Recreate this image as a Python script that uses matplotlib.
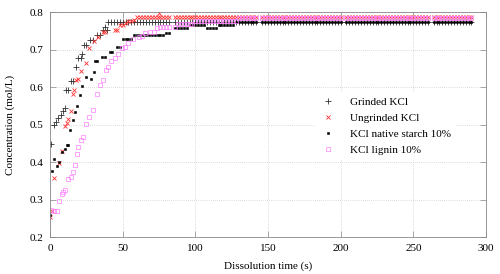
import matplotlib
matplotlib.use('Agg')
import matplotlib.pyplot as plt
import numpy as np

plt.rcParams['font.family'] = ['Liberation Serif', 'DejaVu Serif']

# early (rising) part of each curve: time (s), concentration (mol/L)
grinded_t = [1, 2.5, 4, 5.5, 7.5, 9, 10, 11, 12.5, 14.5, 15.5, 18, 19.5, 21, 22, 23.5, 25,
             27.5, 29.5, 32, 34.5, 36.5, 38, 39]
grinded_y = [0.45, 0.50, 0.508, 0.517, 0.525, 0.536, 0.546, 0.592, 0.592, 0.616, 0.616, 0.655,
             0.677, 0.677, 0.69, 0.714, 0.714, 0.726, 0.726, 0.739, 0.739, 0.754, 0.762, 0.754]

ungrinded_t = [0, 1.5, 2.5, 6.5, 8.5, 10, 11.5, 12.5, 14.5, 15.5, 16.5, 18, 19.5, 21.5, 25,
               27, 30, 33, 36.5, 38, 44.5, 46, 48, 50, 52, 54, 56, 58, 75]
ungrinded_y = [0.253, 0.271, 0.359, 0.399, 0.429, 0.496, 0.506, 0.515, 0.536, 0.581, 0.592,
               0.619, 0.623, 0.643, 0.664, 0.704, 0.723, 0.735, 0.748, 0.748, 0.754, 0.754,
               0.766, 0.766, 0.771, 0.777, 0.777, 0.779, 0.797]

starch_t = [0, 1.5, 2.5, 4.5, 6.5, 8.5, 10, 11.5, 12.5, 14, 16, 17.5, 18.5, 20.5, 22, 24.5,
            28.5, 30, 31, 32.5, 35.5, 37.5, 41, 43, 46, 48]
starch_y = [0.26, 0.378, 0.41, 0.39, 0.40, 0.427, 0.436, 0.445, 0.445, 0.485, 0.512, 0.534,
            0.55, 0.58, 0.604, 0.628, 0.622, 0.641, 0.67, 0.67, 0.68, 0.68, 0.695, 0.695,
            0.708, 0.708]

lignin_t = [1, 2.5, 4.5, 6, 8, 9, 10.5, 12.5, 14.5, 16, 17.5, 18.5, 19.5, 21.5, 22.5, 24.5,
            27, 29.5, 32, 34.5, 36.5, 38.5, 40, 42, 44.5, 47, 49.5, 51.5, 54, 57, 61, 63,
            65.5, 69, 71.5, 73.5]
lignin_y = [0.273, 0.269, 0.271, 0.298, 0.316, 0.32, 0.325, 0.356, 0.362, 0.374, 0.392,
            0.423, 0.44, 0.459, 0.467, 0.503, 0.52, 0.539, 0.581, 0.606, 0.619, 0.646, 0.655,
            0.67, 0.677, 0.69, 0.704, 0.708, 0.717, 0.729, 0.733, 0.737, 0.744, 0.748, 0.748,
            0.757]

grinded_runs = [(40, 290, 0.773)]
ungrinded_runs = [(60, 290, 0.788)]
starch_runs = [(50, 56, 0.728), (58, 78, 0.739), (80, 84, 0.746), (86, 94, 0.757),
               (96, 106, 0.766), (108, 114, 0.757), (116, 126, 0.766), (128, 290, 0.773)]
lignin_runs = [(76, 86, 0.762), (88, 98, 0.768), (100, 128, 0.777), (130, 290, 0.784)]
gaps = [84, 144, 202, 262]


def add_runs(t, y, runs):
    t = list(t)
    y = list(y)
    for t0, t1, v in runs:
        for s in np.arange(t0, t1 + 0.1, 2.0):
            if min(abs(s - g) for g in gaps) < 1.5:
                continue
            t.append(s)
            y.append(v)
    return t, y


gx, gy = add_runs(grinded_t, grinded_y, grinded_runs)
ux, uy = add_runs(ungrinded_t, ungrinded_y, ungrinded_runs)
sx, sy = add_runs(starch_t, starch_y, starch_runs)
lx, ly = add_runs(lignin_t, lignin_y, lignin_runs)

fig = plt.figure(figsize=(5, 2.74), dpi=100)
ax = fig.add_axes([0.1, 0.134, 0.872, 0.821])

ax.plot(gx, gy, ls='none', marker='+', ms=4.5, mew=0.6, color='#333333', label='Grinded KCl')
ax.plot(ux, uy, ls='none', marker='x', ms=3.5, mew=0.6, color='#ff3030', label='Ungrinded KCl')
ax.plot(sx, sy, ls='none', marker='s', ms=1.6, mew=0.4, color='black', label='KCl native starch 10%')
ax.plot(lx, ly, ls='none', marker='s', ms=2.8, mew=0.5, mfc='none', color='#ff80ff', label='KCl lignin 10%')

ax.set_xlim(0, 300)
ax.set_ylim(0.2, 0.8)
ax.set_xticks([0, 50, 100, 150, 200, 250, 300])
ax.set_yticks([0.2, 0.3, 0.4, 0.5, 0.6, 0.7, 0.8])
ax.set_yticklabels(['0.2', '0.3', '0.4', '0.5', '0.6', '0.7', '0.8'])
ax.tick_params(direction='in', top=True, right=True, labelsize=8, length=4, width=0.5,
               color='#888888', pad=5)
ax.grid(True, ls=(0, (1, 2)), lw=0.5, color='#bbbbbb')
for sp in ax.spines.values():
    sp.set_color('#888888')
    sp.set_linewidth(0.6)

ax.set_xlabel('Dissolution time (s)', fontsize=8, labelpad=6)
ax.set_ylabel('Concentration (mol/L)', fontsize=8, labelpad=10)

leg = ax.legend(loc='upper left', bbox_to_anchor=(0.593, 0.672), fontsize=8, frameon=True,
                framealpha=1, edgecolor='none', fancybox=False, handlelength=1.5,
                handletextpad=1.2, labelspacing=0.55, borderpad=0.5)

fig.savefig('out.png', dpi=100)
plt.close()
